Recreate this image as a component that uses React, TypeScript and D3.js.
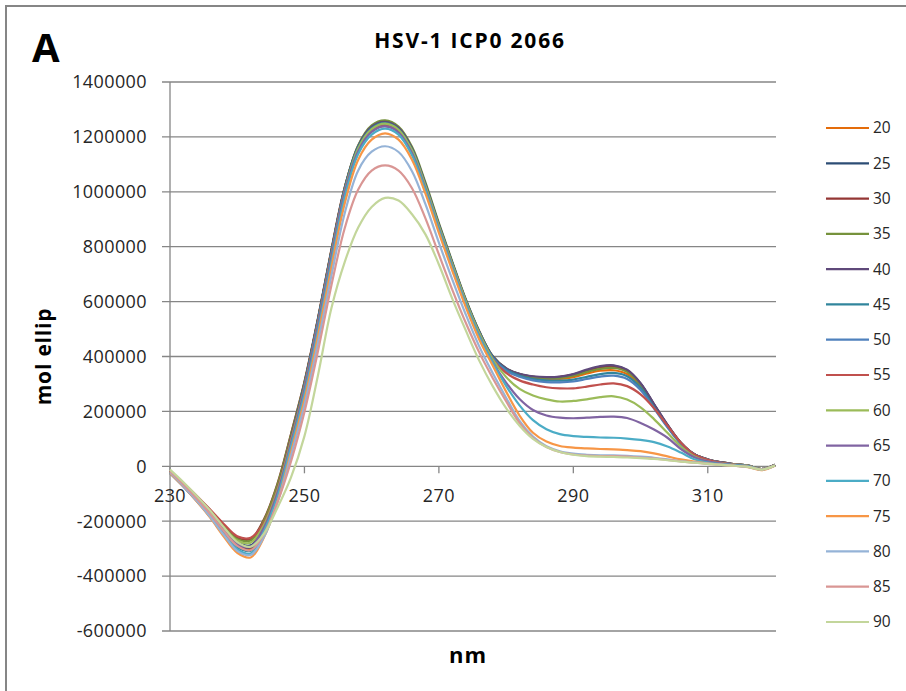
import * as d3 from 'd3'

// wavelength (nm) sampled every 2 nm
const WAVELENGTH = [
  230, 232, 234, 236, 238, 240, 242, 244, 246, 248, 250, 252, 254, 256, 258, 260,
  262, 264, 266, 268, 270, 272, 274, 276, 278, 280, 282, 284, 286, 288, 290, 292,
  294, 296, 298, 300, 302, 304, 306, 308, 310, 312, 314, 316, 318, 320,
]

const TEMPS = ['20', '25', '30', '35', '40', '45', '50', '55', '60', '65', '70', '75', '80', '85', '90']

const COLORS = [
  '#E46C0A', '#2C4D75', '#943634', '#76923C', '#5F497A', '#31859C', '#4F81BD',
  '#C0504D', '#9BBB59', '#8064A2', '#4BACC6', '#F79646', '#95B3D7', '#D99694', '#C3D69B',
]

// mol ellip per temperature
const S20 = [
  -22000, -68000, -118000, -172000, -232000, -285000, -300000, -230000, -90000, 100000,
  300000, 530000, 780000, 1010000, 1157000, 1227000, 1245000,
  1222000, 1148000, 1018000, 872000, 733000, 600000, 486000, 397000, 352000, 332000, 322000, 318000, 318000,
  325000, 338000, 348000, 350000, 336000, 290000, 218000, 146000, 83000, 43000, 24000, 13000, 7000, 2000, -12000, 4000,
]
const S25 = [
  -20000, -66000, -114000, -167000, -226000, -276000, -288000, -215000, -78000, 108000,
  302000, 533000, 783000, 1014000, 1167000, 1237000, 1255000,
  1232000, 1157000, 1027000, 880000, 740000, 605000, 490000, 400000, 356000, 336000, 326000, 323000, 325000,
  334000, 349000, 362000, 366000, 350000, 302000, 226000, 151000, 86000, 44000, 25000, 14000, 8000, 3000, -10000, 6000,
]
const S30 = [
  -18000, -63000, -110000, -160000, -214000, -260000, -265000, -192000, -62000, 118000,
  308000, 538000, 788000, 1017000, 1162000, 1232000, 1250000,
  1228000, 1153000, 1023000, 877000, 738000, 603000, 488000, 399000, 355000, 335000, 326000, 324000, 326000,
  334000, 348000, 360000, 363000, 348000, 300000, 225000, 150000, 85000, 44000, 25000, 14000, 8000, 3000, -10000, 6000,
]
const S35 = [
  -20000, -64000, -112000, -163000, -218000, -265000, -270000, -196000, -66000, 115000,
  305000, 535000, 785000, 1016000, 1170000, 1242000, 1260000,
  1238000, 1164000, 1034000, 886000, 745000, 609000, 493000, 402000, 357000, 336000, 326000, 322000, 322000,
  330000, 344000, 355000, 358000, 344000, 298000, 223000, 149000, 85000, 44000, 25000, 14000, 8000, 3000, -10000, 6000,
]
const S40 = [
  -22000, -68000, -118000, -172000, -232000, -283000, -296000, -222000, -84000, 104000,
  300000, 532000, 782000, 1013000, 1166000, 1237000, 1255000,
  1233000, 1158000, 1028000, 881000, 741000, 606000, 491000, 401000, 357000, 337000, 328000, 325000, 327000,
  336000, 352000, 365000, 368000, 352000, 303000, 227000, 152000, 86000, 44000, 25000, 14000, 8000, 3000, -10000, 6000,
]
const S45 = [
  -24000, -72000, -124000, -180000, -242000, -294000, -308000, -236000, -96000, 96000,
  296000, 528000, 778000, 1010000, 1162000, 1232000, 1250000,
  1228000, 1153000, 1023000, 877000, 738000, 603000, 488000, 398000, 352000, 330000, 318000, 313000, 312000,
  316000, 326000, 336000, 340000, 328000, 286000, 216000, 145000, 83000, 43000, 24000, 13000, 7000, 2000, -11000, 5000,
]
const S50 = [
  -25000, -74000, -127000, -185000, -250000, -304000, -320000, -248000, -106000, 90000,
  292000, 525000, 775000, 1007000, 1157000, 1227000, 1245000,
  1223000, 1148000, 1018000, 873000, 735000, 600000, 485000, 395000, 348000, 326000, 313000, 307000, 306000,
  309000, 318000, 327000, 330000, 318000, 278000, 211000, 142000, 82000, 43000, 24000, 13000, 7000, 2000, -11000, 5000,
]
const S55 = [
  -18000, -62000, -108000, -158000, -210000, -255000, -260000, -205000, -82000, 98000,
  288000, 518000, 768000, 1002000, 1150000, 1220000, 1240000,
  1218000, 1143000, 1014000, 868000, 730000, 597000, 482000, 390000, 340000, 313000, 298000, 288000, 284000,
  284000, 290000, 298000, 302000, 292000, 262000, 212000, 148000, 86000, 43000, 24000, 13000, 7000, 2000, -11000, 5000,
]
const S60 = [
  -20000, -65000, -114000, -166000, -222000, -270000, -278000, -212000, -88000, 92000,
  284000, 515000, 765000, 1000000, 1158000, 1228000, 1248000,
  1226000, 1151000, 1021000, 874000, 735000, 601000, 485000, 390000, 325000, 282000, 258000, 244000, 236000,
  238000, 244000, 252000, 255000, 243000, 215000, 172000, 122000, 72000, 36000, 18000, 10000, 6000, 2000, -10000, 5000,
]
const S65 = [
  -22000, -68000, -118000, -172000, -232000, -283000, -292000, -222000, -95000, 85000,
  280000, 512000, 762000, 997000, 1148000, 1218000, 1238000,
  1216000, 1141000, 1011000, 865000, 726000, 592000, 476000, 380000, 305000, 245000, 205000, 185000, 177000,
  175000, 177000, 180000, 181000, 176000, 158000, 134000, 104000, 63000, 33000, 18000, 10000, 5000, 1000, -10000, 4000,
]
const S70 = [
  -24000, -72000, -124000, -182000, -246000, -302000, -318000, -235000, -110000, 72000,
  263000, 493000, 743000, 982000, 1138000, 1208000, 1230000,
  1208000, 1133000, 1005000, 860000, 722000, 590000, 473000, 378000, 293000, 222000, 168000, 135000, 117000,
  110000, 107000, 105000, 104000, 101000, 96000, 88000, 72000, 50000, 26000, 14000, 8000, 4000, 0, -12000, 3000,
]
const S75 = [
  -25000, -74000, -128000, -188000, -256000, -315000, -332000, -258000, -128000, 52000,
  243000, 473000, 723000, 958000, 1117000, 1190000, 1213000,
  1190000, 1117000, 993000, 850000, 712000, 580000, 462000, 367000, 272000, 185000, 122000, 90000, 74000,
  68000, 65000, 63000, 62000, 59000, 55000, 47000, 36000, 25000, 17000, 11000, 6000, 2000, -3000, -14000, 2000,
]
const S80 = [
  -22000, -72000, -126000, -185000, -250000, -308000, -323000, -256000, -130000, 38000,
  223000, 448000, 693000, 923000, 1078000, 1146000, 1166000,
  1145000, 1075000, 955000, 815000, 680000, 553000, 437000, 340000, 250000, 165000, 108000, 73000, 55000,
  46000, 42000, 40000, 40000, 38000, 35000, 31000, 25000, 19000, 14000, 10000, 6000, 2000, -2000, -12000, 3000,
]
const S85 = [
  -18000, -66000, -118000, -174000, -236000, -290000, -306000, -245000, -130000, 18000,
  198000, 418000, 658000, 868000, 1008000, 1077000, 1096000,
  1077000, 1013000, 903000, 772000, 643000, 523000, 415000, 322000, 237000, 158000, 103000, 70000, 52000,
  43000, 39000, 37000, 37000, 35000, 32000, 28000, 23000, 18000, 13000, 9000, 5000, 2000, -2000, -12000, 3000,
]
const S90 = [
  -12000, -58000, -108000, -162000, -222000, -276000, -293000, -245000, -150000, -40000,
  110000, 330000, 575000, 745000, 870000, 945000, 978000,
  968000, 918000, 845000, 735000, 610000, 495000, 385000, 292000, 212000, 148000, 100000, 70000, 52000,
  42000, 37000, 35000, 34000, 32000, 30000, 27000, 22000, 17000, 13000, 9000, 5000, 2000, -2000, -12000, 3000,
]

const SERIES_VALUES = [S20, S25, S30, S35, S40, S45, S50, S55, S60, S65, S70, S75, S80, S85, S90]

const X_TICKS = [230, 250, 270, 290, 310]
const Y_TICKS = [-600000, -400000, -200000, 0, 200000, 400000, 600000, 800000, 1000000, 1200000, 1400000]

const WIDTH = 906
const HEIGHT = 691
const PLOT = { left: 170, right: 775, top: 82, bottom: 631 }
const FONT = '"Open Sans", "Liberation Sans", sans-serif'
const GRID = '#868686'
const TEXT = '#262626'

export default function App() {
  const x = d3.scaleLinear().domain([230, 320]).range([PLOT.left, PLOT.right])
  const y = d3.scaleLinear().domain([-600000, 1400000]).range([PLOT.bottom, PLOT.top])
  const line = d3
    .line<number>()
    .x((_, i) => x(WAVELENGTH[i]))
    .y((d) => y(d))
    .curve(d3.curveCatmullRom.alpha(0.5))
  const legend = d3
    .scalePoint<string>()
    .domain(TEMPS)
    .range([128, 622])

  return (
    <svg
      width={WIDTH}
      height={HEIGHT}
      style={{ position: 'absolute', left: 0, top: 0, background: '#fff' }}
      fontFamily={FONT}
    >
      <rect x={6} y={6} width={WIDTH + 20} height={HEIGHT + 20} fill="#fff" stroke={GRID} strokeWidth={2} />

      <text x={32} y={62} fontSize={40} fontWeight="bold" fill="#000">A</text>
      <text x={470} y={48} fontSize={21} fontWeight="bold" letterSpacing={1.8} textAnchor="middle" fill="#000">
        HSV-1 ICP0 2066
      </text>

      {Y_TICKS.map((t) => (
        <g key={t}>
          <line x1={PLOT.left - 8} x2={PLOT.right + 1} y1={y(t)} y2={y(t)} stroke={GRID} strokeWidth={1.3} />
          <text x={147} y={y(t)} dy="0.35em" textAnchor="end" fontSize={18} letterSpacing={0.4} fill={TEXT}>
            {String(t)}
          </text>
        </g>
      ))}
      <line x1={PLOT.left} x2={PLOT.left} y1={PLOT.top} y2={PLOT.bottom} stroke={GRID} strokeWidth={1.3} />
      {X_TICKS.map((t) => (
        <g key={t}>
          <line x1={x(t)} x2={x(t)} y1={y(0)} y2={y(0) + 7} stroke={GRID} strokeWidth={1.3} />
          <text x={x(t)} y={y(0) + 36} textAnchor="middle" fontSize={18} letterSpacing={0.4} fill={TEXT}>
            {t}
          </text>
        </g>
      ))}

      {SERIES_VALUES.map((values, i) => (
        <path key={TEMPS[i]} d={line(values) ?? ''} fill="none" stroke={COLORS[i]} strokeWidth={2.2} />
      ))}

      <text
        transform={`translate(51, ${(PLOT.top + PLOT.bottom) / 2}) rotate(-90)`}
        textAnchor="middle"
        fontSize={21}
        fontWeight="bold"
        letterSpacing={0.8}
        fill="#000"
      >
        mol ellip
      </text>
      <text x={468} y={663} textAnchor="middle" fontSize={22} fontWeight="bold" letterSpacing={1} fill="#000">
        nm
      </text>

      {TEMPS.map((t, i) => (
        <g key={t} transform={`translate(0, ${legend(t)})`}>
          <line x1={826} x2={869} stroke={COLORS[i]} strokeWidth={2.2} />
          <text x={873} dy="0.35em" fontSize={15.5} fill={TEXT}>{t}</text>
        </g>
      ))}
    </svg>
  )
}
